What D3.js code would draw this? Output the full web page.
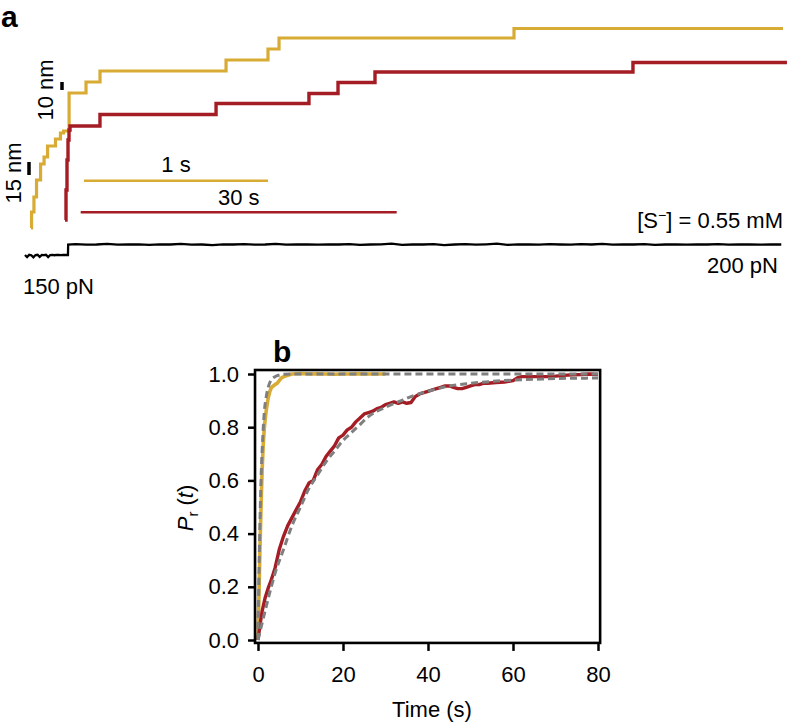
<!DOCTYPE html>
<html><head><meta charset="utf-8">
<script src="https://cdn.jsdelivr.net/npm/d3@7"></script>
<style>body{margin:0;background:#fff}svg{display:block}text{font-family:"Liberation Sans",Arial,Helvetica,sans-serif}</style>
</head><body><svg id="c" width="788" height="725"></svg>
<script>
// ---------- Panel a : extension traces (time in s, extension in nm) ----------
// yellow trace (1 s scale bar): step levels [start time s, extension nm]
const yellowStepT  = [0, 0.003, 0.016, 0.030, 0.052, 0.071, 0.090, 0.133, 0.160, 0.177, 0.207, 0.299, 0.375, 1.060, 1.288, 1.348, 2.625, 4.087];
const yellowStepNm = [2, 18, 33, 50, 66, 73, 84, 91, 97, 99, 137, 148, 159, 170, 181, 192, 201.5, 201.5];
// red trace (30 s scale bar)
const redStepT  = [0, 0.095, 0.19, 0.285, 0.38, 0.475, 3.32, 14.34, 23.16, 25.92, 29.43, 53.92, 68.54];
const redStepNm = [10, 40, 70, 90, 100, 104, 115.5, 126.5, 136.5, 147.5, 158, 167.5, 167.5];
// force trace (pN) on the red time axis
const forceT  = [-3.8,-3.6,-3.4,-3.2,-3.0,-2.8,-2.6,-2.4,-2.2,-2.0,-1.8,-1.6,-1.4,-1.2,-1.0,-0.8,-0.6,-0.4,-0.2,0.0,0.28,0.3,1,2,3,4,5,6,7,8,9,10,11,12,13,14,15,16,17,18,19,20,21,22,23,24,25,26,27,28,29,30,31,32,33,34,35,36,37,38,39,40,41,42,43,44,45,46,47,48,49,50,51,52,53,54,55,56,57,58,59,60,61,62,63,64,65,66,67,68];
const forcePN = [150,140,151,149,139,150,151,141,150,149,151,140,150,151,149,151,150,149,151,150,150,200,202,199,200,203,199,200,201,198,201,200,203,199,200,197,201,200,202,199,200,203,199,200,201,199,201,200,202,198,200,201,204,198,200,200,202,197,200,202,199,201,204,198,201,200,199,202,200,199,202,200,203,199,200,200,202,198,200,201,199,200,200,202,199,200,201,199,200,200,200];
// scale bars
const barYellowT = [0.288, 1.288], barYellowNm = 49.3;
const barRedT = [1.49, 31.49], barRedNm = 17.7;
const nmBar10 = [140, 148], nmBar15 = [55, 68];

// ---------- Panel b : cumulative probability ----------
const redT = [0,0.5,1,1.7,2.5,3,4,5,6,7,8,9,10,11,12,13,14,15,16,17,18,19,20,21,22,23,24,25,26,27,28,29,30,31,32,33,34,35,36,37,38,39,40,41,42,43,44,45,46,47,48,49,50,51,52,53,54,56,58,60,61,62,64,66,68,70,72,74,76,78,80];
const redP = [0,0.06,0.11,0.16,0.2,0.22,0.27,0.34,0.39,0.43,0.46,0.49,0.52,0.56,0.59,0.6,0.64,0.66,0.69,0.71,0.73,0.76,0.77,0.79,0.8,0.82,0.835,0.85,0.855,0.86,0.87,0.875,0.885,0.89,0.895,0.89,0.895,0.89,0.893,0.915,0.925,0.93,0.935,0.94,0.945,0.95,0.955,0.955,0.95,0.945,0.945,0.95,0.955,0.96,0.96,0.965,0.965,0.968,0.97,0.975,0.985,0.99,0.99,0.99,0.99,0.992,0.995,0.997,0.998,1.0,0.998];
const yelT = [0,0.2,0.4,0.6,0.8,1.0,1.25,1.5,1.75,2.0,2.4,2.8,3.2,3.6,4.0,4.5,5,5.5,6,7,8,10,12,14,16,18,20,22,24,26,28,30];
const yelP = [0,0.15,0.3,0.43,0.55,0.65,0.74,0.8,0.84,0.87,0.91,0.935,0.95,0.955,0.96,0.965,0.975,0.985,0.99,0.995,1.0,1.002,1.0,1.001,1.0,0.999,1.0,1.0,1.001,1.0,1.0,1.0];
const redFitT = [0,2,4,6,8,10,12,14,16,18,20,22,24,26,28,30,33,36,40,45,50,55,60,65,70,75,80];
const redFitP = [0,0.13,0.25,0.34,0.43,0.5,0.57,0.62,0.67,0.71,0.75,0.78,0.81,0.84,0.86,0.875,0.895,0.915,0.935,0.955,0.965,0.972,0.977,0.98,0.983,0.984,0.985];
const yelFitT = [0,0.25,0.5,0.75,1,1.25,1.5,2,2.5,3,4,5,6,8,80];
const yelFitP = [0,0.27,0.47,0.62,0.72,0.8,0.86,0.92,0.955,0.975,0.99,0.996,0.999,1,1];
const xTicks = [0,20,40,60,80];
const yTicks = [0,0.2,0.4,0.6,0.8,1.0];

const YEL = '#d8ab35', RED = '#a51d24', GRAY = '#7f7f7f';
const svg = d3.select('#c');
const zip = (a,b) => a.map((v,i)=>[v,b[i]]);

// ---- panel a scales
const aYellowX = d3.scaleLinear().domain([0,1]).range([31,215]);
const aRedX = d3.scaleLinear().domain([0,30]).range([65,381]);
const aY = d3.scaleLinear().domain([0,100]).range([230,130]);
const aF = d3.scaleLinear().domain([150,200]).range([255,244.5]);

svg.append('text').attr('x',1).attr('y',27).attr('font-size',30).attr('font-weight','bold').text('a');

const stepLine = (xs) => d3.line().x(d=>xs(d[0])).y(d=>aY(d[1])).curve(d3.curveStepAfter);
svg.append('path').datum(zip(yellowStepT,yellowStepNm)).attr('d',stepLine(aYellowX))
  .attr('fill','none').attr('stroke',YEL).attr('stroke-width',3.2);
svg.append('path').datum(zip(redStepT,redStepNm)).attr('d',stepLine(aRedX))
  .attr('fill','none').attr('stroke',RED).attr('stroke-width',3.4);
svg.append('path').datum(zip(forceT,forcePN))
  .attr('d',d3.line().x(d=>aRedX(d[0])).y(d=>aF(d[1])))
  .attr('fill','none').attr('stroke','#000').attr('stroke-width',2.3);

// time scale bars
svg.append('line').attr('x1',aYellowX(barYellowT[0])).attr('x2',aYellowX(barYellowT[1]))
  .attr('y1',aY(barYellowNm)).attr('y2',aY(barYellowNm)).attr('stroke',YEL).attr('stroke-width',2.5);
svg.append('line').attr('x1',aRedX(barRedT[0])).attr('x2',aRedX(barRedT[1]))
  .attr('y1',aY(barRedNm)).attr('y2',aY(barRedNm)).attr('stroke',RED).attr('stroke-width',2.5);
svg.append('text').attr('x',aYellowX((barYellowT[0]+barYellowT[1])/2)).attr('y',aY(barYellowNm)-9)
  .attr('text-anchor','middle').attr('font-size',22).text('1 s');
svg.append('text').attr('x',aRedX((barRedT[0]+barRedT[1])/2)).attr('y',aY(barRedNm)-7.5)
  .attr('text-anchor','middle').attr('font-size',22).text('30 s');
// nm scale bars
svg.append('line').attr('x1',62).attr('x2',62).attr('y1',aY(nmBar10[0])).attr('y2',aY(nmBar10[1]))
  .attr('stroke','#000').attr('stroke-width',3.5);
svg.append('line').attr('x1',29).attr('x2',29).attr('y1',aY(nmBar15[0])).attr('y2',aY(nmBar15[1]))
  .attr('stroke','#000').attr('stroke-width',3.5);
svg.append('text').attr('transform','translate(53,90) rotate(-90)').attr('text-anchor','middle').attr('font-size',22).text('10 nm');
svg.append('text').attr('transform','translate(21,173) rotate(-90)').attr('text-anchor','middle').attr('font-size',22).text('15 nm');

const conc = svg.append('text').attr('x',783).attr('y',228).attr('text-anchor','end').attr('font-size',22);
conc.append('tspan').text('[S');
conc.append('tspan').attr('dy',-8).attr('font-size',14).text('−');
conc.append('tspan').attr('dy',8).text('] = 0.55 mM');
svg.append('text').attr('x',778).attr('y',273).attr('text-anchor','end').attr('font-size',22).text('200 pN');
svg.append('text').attr('x',23).attr('y',294).attr('font-size',22).text('150 pN');

// ---- panel b
const xB = d3.scaleLinear().domain([0,80]).range([258,598]);
const yB = d3.scaleLinear().domain([0,1]).range([640,374]);
const fL = xB(-0.7), fR = xB(80.5), fT = yB(1.015), fB = yB(-0.011);
svg.append('text').attr('x',273).attr('y',362).attr('font-size',30).attr('font-weight','bold').text('b');

const lineB = d3.line().x(d=>xB(d[0])).y(d=>yB(d[1]));
svg.append('path').datum(zip(yelT,yelP)).attr('d',lineB).attr('fill','none').attr('stroke',YEL).attr('stroke-width',3.6).attr('stroke-linejoin','round');
svg.append('path').datum(zip(redT,redP)).attr('d',lineB).attr('fill','none').attr('stroke',RED).attr('stroke-width',3.4).attr('stroke-linejoin','round');
svg.append('path').datum(zip(yelFitT,yelFitP)).attr('d',lineB.curve(d3.curveMonotoneX)).attr('fill','none').attr('stroke',GRAY).attr('stroke-width',3).attr('stroke-dasharray','7,4');
svg.append('path').datum(zip(redFitT,redFitP)).attr('d',lineB.curve(d3.curveMonotoneX)).attr('fill','none').attr('stroke',GRAY).attr('stroke-width',3).attr('stroke-dasharray','7,4');

svg.append('rect').attr('x',fL).attr('y',fT).attr('width',fR-fL).attr('height',fB-fT)
  .attr('fill','none').attr('stroke','#000').attr('stroke-width',2.6);

const styleAxis = g => {
  g.select('.domain').remove();
  g.selectAll('.tick line').attr('stroke','#000').attr('stroke-width',2.5);
  g.selectAll('.tick text').attr('fill','#000').attr('font-size',22)
    .attr('font-family','"Liberation Sans",Arial,Helvetica,sans-serif');
};
svg.append('g').attr('transform',`translate(${fL},0)`)
  .call(d3.axisLeft(yB).tickValues(yTicks).tickFormat(d3.format('.1f')).tickSize(7).tickPadding(9)).call(styleAxis);
svg.append('g').attr('transform',`translate(0,${fB})`)
  .call(d3.axisBottom(xB).tickValues(xTicks).tickFormat(d3.format('d')).tickSize(8).tickPadding(15)).call(styleAxis);

svg.append('text').attr('x',432).attr('y',717).attr('text-anchor','middle').attr('font-size',22).text('Time (s)');
const pl = svg.append('text').attr('transform','translate(193,508) rotate(-90)').attr('text-anchor','middle').attr('font-size',22);
pl.append('tspan').attr('font-style','italic').text('P');
pl.append('tspan').attr('font-size',15).attr('dy',5).text('r');
pl.append('tspan').attr('dy',-5).text(' (');
pl.append('tspan').attr('font-style','italic').text('t');
pl.append('tspan').text(')');
</script></body></html>
